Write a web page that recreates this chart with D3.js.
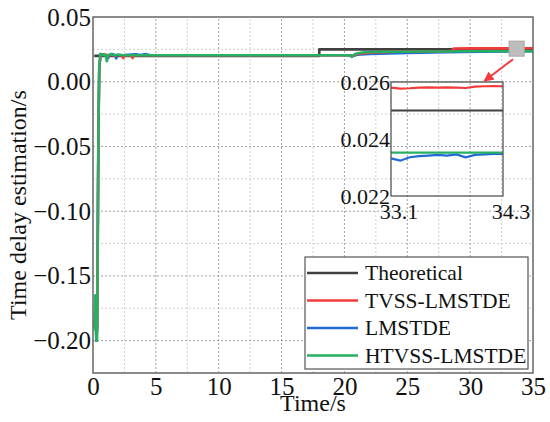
<!DOCTYPE html>
<html>
<head>
<meta charset="utf-8">
<script src="https://cdn.jsdelivr.net/npm/d3@7"></script>
<style>
  body { margin: 0; background: #fff; }
  text { font-family: "Liberation Serif", "Times New Roman", serif; fill: #111; }
  .tick text { font-family: "Liberation Serif", "Times New Roman", serif !important; font-size: 25px !important; }
</style>
</head>
<body>
<div id="chart"></div>
<script>
// ---- data ----
var seriesNames = ["Theoretical", "TVSS-LMSTDE", "LMSTDE", "HTVSS-LMSTDE"];
var seriesColors = ["#404040", "#f23b3b", "#1f6ad6", "#27b062"];

var theoTime  = [0.1, 18, 18, 35];
var theoValue = [0.02, 0.02, 0.025, 0.025];

var tvssTime  = [0.15, 0.2, 0.27, 0.33, 0.38, 0.43, 0.5, 0.6, 0.8, 1.2, 1.8, 2.3, 2.4, 2.5, 3.05, 3.15, 3.25, 5, 10, 18, 20.4, 20.6, 21, 22, 24, 26, 28.5, 28.7, 30, 33.1, 35];
var tvssValue = [-0.19, -0.17, -0.2, -0.19, -0.12, -0.04, 0.012, 0.02, 0.021, 0.0205, 0.0205, 0.0204, 0.0183, 0.0204, 0.0204, 0.0183, 0.0204, 0.0204, 0.0204, 0.0204, 0.0204, 0.0196, 0.0214, 0.0224, 0.0231, 0.0234, 0.0236, 0.0257, 0.0258, 0.0258, 0.02586];

var lmsTime  = [0.15, 0.2, 0.27, 0.33, 0.38, 0.43, 0.5, 0.6, 0.8, 1.1, 1.2, 1.3, 1.5, 1.75, 1.85, 1.95, 2.5, 3.4, 3.8, 4.2, 4.6, 5, 10, 18, 20.5, 20.7, 21, 22, 25, 28, 31, 33.1, 35];
var lmsValue = [-0.19, -0.17, -0.2, -0.19, -0.12, -0.04, 0.012, 0.02, 0.021, 0.0205, 0.0182, 0.0205, 0.0214, 0.0205, 0.0181, 0.0205, 0.0206, 0.0212, 0.0206, 0.0213, 0.0205, 0.0204, 0.0204, 0.0204, 0.0204, 0.0199, 0.0209, 0.0215, 0.0222, 0.0228, 0.0232, 0.02333, 0.0235];

var htvssTime  = [0.15, 0.18, 0.22, 0.27, 0.32, 0.36, 0.4, 0.45, 0.5, 0.58, 0.7, 0.9, 1.02, 1.1, 1.18, 1.4, 1.8, 2.0, 2.4, 3, 5, 10, 18, 20.4, 20.6, 20.8, 21.2, 21.6, 22.5, 24, 26, 28, 30, 33.1, 35];
var htvssValue = [-0.192, -0.165, -0.19, -0.2, -0.2, -0.15, -0.08, -0.02, 0.01, 0.0215, 0.0212, 0.0205, 0.0205, 0.0158, 0.0205, 0.0213, 0.0205, 0.0211, 0.0205, 0.0205, 0.0204, 0.0204, 0.0204, 0.0204, 0.0192, 0.0212, 0.0222, 0.0228, 0.023, 0.0232, 0.0233, 0.0234, 0.0235, 0.02352, 0.02352];

// zoomed window
var insetTime   = [33.1, 33.2, 33.3, 33.4, 33.5, 33.6, 33.7, 33.8, 33.9, 34.0, 34.1, 34.2, 34.3];
var insetTheo   = [0.025, 0.025, 0.025, 0.025, 0.025, 0.025, 0.025, 0.025, 0.025, 0.025, 0.025, 0.025, 0.025];
var insetTvss   = [0.02580, 0.02577, 0.02578, 0.02580, 0.02581, 0.02580, 0.02581, 0.02580, 0.02579, 0.02584, 0.02585, 0.02586, 0.02585];
var insetLms    = [0.02332, 0.02324, 0.02336, 0.02340, 0.02342, 0.02344, 0.02342, 0.02346, 0.02336, 0.02344, 0.02346, 0.02348, 0.02348];
var insetHtvss  = [0.02352, 0.02352, 0.02352, 0.02352, 0.02352, 0.02352, 0.02352, 0.02352, 0.02352, 0.02352, 0.02352, 0.02352, 0.02352];

var xTicks = [0, 5, 10, 15, 20, 25, 30, 35];
var yTicks = [-0.20, -0.15, -0.10, -0.05, 0.00, 0.05];
var insetXTicks = [33.1, 34.3];
var insetYTicks = [0.022, 0.024, 0.026];

// ---- layout ----
var width = 550, height = 422;
var margin = {left: 93, right: 17, top: 17, bottom: 49};

var svg = d3.select("#chart").append("svg")
	.attr("width", width)
	.attr("height", height);

var x = d3.scaleLinear().domain([0, 35]).range([margin.left, width - margin.right]);
var y = d3.scaleLinear().domain([-0.225, 0.05]).range([height - margin.bottom, margin.top]);

// grid: minor (light) and major (darker) dotted lines
var xMinor = d3.range(2.5, 35, 5), yMinor = [-0.175, -0.125, -0.075, -0.025, 0.025];
var grid = svg.append("g");
grid.selectAll(".gxm").data(xMinor).enter().append("line")
	.attr("x1", d => x(d)).attr("x2", d => x(d))
	.attr("y1", y.range()[0]).attr("y2", y.range()[1])
	.attr("stroke", "#d0d0d0").attr("stroke-dasharray", "2,2");
grid.selectAll(".gym").data(yMinor).enter().append("line")
	.attr("x1", x.range()[0]).attr("x2", x.range()[1])
	.attr("y1", d => y(d)).attr("y2", d => y(d))
	.attr("stroke", "#d0d0d0").attr("stroke-dasharray", "2,2");
grid.selectAll(".gx").data(xTicks.slice(1, -1)).enter().append("line")
	.attr("x1", d => x(d)).attr("x2", d => x(d))
	.attr("y1", y.range()[0]).attr("y2", y.range()[1])
	.attr("stroke", "#a0a0a0").attr("stroke-dasharray", "2,2");
grid.selectAll(".gy").data(yTicks.slice(0, -1)).enter().append("line")
	.attr("x1", x.range()[0]).attr("x2", x.range()[1])
	.attr("y1", d => y(d)).attr("y2", d => y(d))
	.attr("stroke", "#a0a0a0").attr("stroke-dasharray", "2,2");

// axes
var xAxis = svg.append("g")
	.attr("transform", "translate(0," + y.range()[0] + ")")
	.call(d3.axisBottom(x).tickValues(xTicks).tickSize(0).tickPadding(4).tickFormat(d3.format("d")));
var yAxis = svg.append("g")
	.attr("transform", "translate(" + x.range()[0] + ",0)")
	.call(d3.axisLeft(y).tickValues(yTicks).tickSize(0).tickPadding(2).tickFormat(d3.format(".2f")));
[xAxis, yAxis].forEach(function(a){
	a.attr("font-family", null).attr("font-size", null);
	a.select(".domain").remove();
	a.selectAll("text").attr("fill", "#111");
});

// lines
var line = d3.line().x(d => x(d[0])).y(d => y(d[1]));
var lines = [
	{t: theoTime, v: theoValue, c: seriesColors[0]},
	{t: lmsTime, v: lmsValue, c: seriesColors[2]},
	{t: tvssTime, v: tvssValue, c: seriesColors[1]},
	{t: htvssTime, v: htvssValue, c: seriesColors[3]}
];
svg.append("g").selectAll("path").data(lines).enter().append("path")
	.attr("d", d => line(d3.zip(d.t, d.v)))
	.attr("fill", "none")
	.attr("stroke", d => d.c)
	.attr("stroke-width", 2.6)
	.attr("stroke-linejoin", "round");

// frame
svg.append("rect")
	.attr("x", x.range()[0]).attr("y", y.range()[1])
	.attr("width", x.range()[1] - x.range()[0])
	.attr("height", y.range()[0] - y.range()[1])
	.attr("fill", "none").attr("stroke", "#666").attr("stroke-width", 1.5);

// marker of the zoomed window
var boxW = x(34.3) - x(33.1);
svg.append("rect")
	.attr("x", x(33.1)).attr("y", y(0.024) - boxW / 2 - 2)
	.attr("width", boxW).attr("height", boxW)
	.attr("fill", "#bdbdbd").attr("stroke", "#aaa");

// inset
var ix = d3.scaleLinear().domain([33.1, 34.3]).range([391, 503]);
var iy = d3.scaleLinear().domain([0.022, 0.026]).range([196, 82]);
var inset = svg.append("g");
var iline = d3.line().x(d => ix(d[0])).y(d => iy(d[1]));
var insetLines = [
	{v: insetTheo, c: seriesColors[0]},
	{v: insetLms, c: seriesColors[2]},
	{v: insetHtvss, c: seriesColors[3]},
	{v: insetTvss, c: seriesColors[1]}
];
inset.selectAll("path").data(insetLines).enter().append("path")
	.attr("d", d => iline(d3.zip(insetTime, d.v)))
	.attr("fill", "none").attr("stroke", d => d.c).attr("stroke-width", 2.2);
inset.append("rect")
	.attr("x", ix.range()[0]).attr("y", iy.range()[1])
	.attr("width", ix.range()[1] - ix.range()[0])
	.attr("height", iy.range()[0] - iy.range()[1])
	.attr("fill", "none").attr("stroke", "#555").attr("stroke-width", 1.3);
inset.selectAll(".iyt").data(insetYTicks).enter().append("text")
	.attr("x", ix.range()[0] - 1).attr("y", d => iy(d)).attr("dy", "0.35em")
	.attr("text-anchor", "end").style("font-size", "22px")
	.text(d => d3.format(".3f")(d));
inset.selectAll(".ixt").data(insetXTicks).enter().append("text")
	.attr("x", d => ix(d) + 8).attr("y", iy.range()[0] + 23)
	.attr("text-anchor", "middle").style("font-size", "22px")
	.text(d => d3.format(".1f")(d));

// arrow from marker to inset
var defs = svg.append("defs");
defs.append("marker").attr("id", "arrow")
	.attr("viewBox", "0 0 10 10").attr("refX", 9).attr("refY", 5)
	.attr("markerWidth", 5).attr("markerHeight", 5).attr("orient", "auto")
	.append("path").attr("d", "M0,0L10,5L0,10z").attr("fill", "#f23b3b");
svg.append("line")
	.attr("x1", x(33.1) + 4).attr("y1", y(0.024) + boxW / 2 + 1)
	.attr("x2", ix(34.1)).attr("y2", iy.range()[1] - 1)
	.attr("stroke", "#f23b3b").attr("stroke-width", 2)
	.attr("marker-end", "url(#arrow)");

// legend
var legend = svg.append("g");
legend.append("rect")
	.attr("x", 305).attr("y", 257).attr("width", 223).attr("height", 112)
	.attr("fill", "#fff").attr("stroke", "#555").attr("stroke-width", 1.2);
var items = legend.selectAll(".item").data(seriesNames).enter().append("g")
	.attr("transform", (d, i) => "translate(307," + (273 + i * 27.5) + ")");
items.append("line").attr("x1", 0).attr("x2", 51)
	.attr("stroke", (d, i) => seriesColors[i]).attr("stroke-width", 2.6);
items.append("text").attr("x", 58).attr("dy", "0.33em")
	.style("font-size", "21.5px").text(d => d);

// axis titles
svg.append("text")
	.attr("x", x(35 / 2)).attr("y", 411)
	.attr("text-anchor", "middle").style("font-size", "24px")
	.text("Time/s");
svg.append("text")
	.attr("transform", "translate(26," + 205 + ") rotate(-90)")
	.attr("text-anchor", "middle").style("font-size", "24px")
	.text("Time delay estimation/s");
</script>
</body>
</html>
